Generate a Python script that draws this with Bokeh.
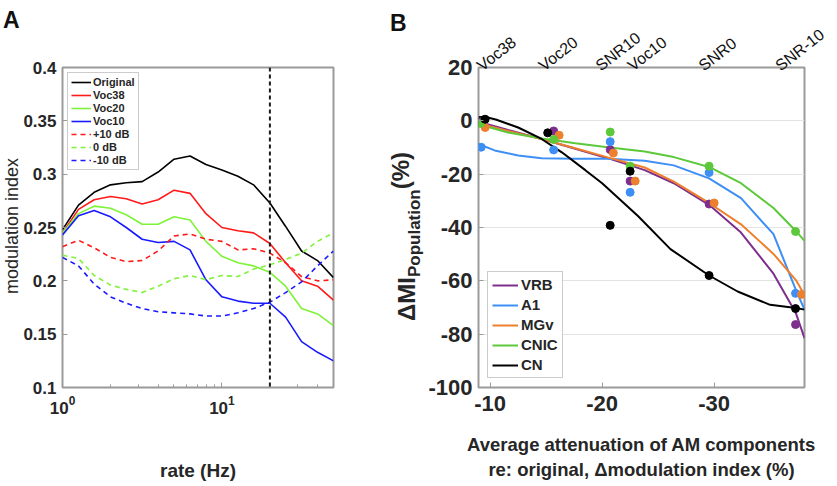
import math
from bokeh.plotting import figure
from bokeh.models import Range1d, FixedTicker, LinearAxis, Span, Div
from bokeh.layouts import row
from bokeh.embed import file_html
from bokeh.resources import INLINE

FONT = "Liberation Sans"
BOX = "#9a9a9a"
TXT = "#262626"
H = 486

# ---------------- Panel A data ----------------
rates = [1.0, 1.26, 1.58, 2.0, 2.51, 3.16, 3.98, 5.01, 6.31, 7.94, 10.0, 12.6, 15.8, 20.0, 25.1, 31.6, 39.8, 50.1]
original = [0.248, 0.271, 0.283, 0.290, 0.292, 0.293, 0.302, 0.314, 0.317, 0.309, 0.304, 0.298, 0.290, 0.273, 0.251, 0.228, 0.219, 0.203]
voc38 = [0.245, 0.267, 0.276, 0.279, 0.277, 0.272, 0.276, 0.285, 0.282, 0.263, 0.250, 0.247, 0.245, 0.235, 0.217, 0.200, 0.195, 0.182]
voc20 = [0.245, 0.263, 0.270, 0.268, 0.262, 0.253, 0.253, 0.260, 0.257, 0.237, 0.223, 0.217, 0.214, 0.208, 0.195, 0.174, 0.169, 0.158]
voc10 = [0.243, 0.261, 0.266, 0.260, 0.250, 0.239, 0.236, 0.237, 0.229, 0.201, 0.185, 0.181, 0.179, 0.179, 0.166, 0.143, 0.133, 0.125]
snr_p10 = [0.232, 0.238, 0.231, 0.222, 0.218, 0.219, 0.228, 0.242, 0.244, 0.239, 0.237, 0.229, 0.230, 0.226, 0.217, 0.204, 0.200, 0.201]
snr_0 = [0.224, 0.221, 0.205, 0.196, 0.192, 0.189, 0.195, 0.202, 0.205, 0.201, 0.205, 0.204, 0.211, 0.215, 0.220, 0.226, 0.237, 0.245]
snr_m10 = [0.222, 0.214, 0.197, 0.185, 0.179, 0.174, 0.171, 0.170, 0.169, 0.167, 0.167, 0.170, 0.174, 0.180, 0.189, 0.199, 0.214, 0.228]
cutoff_rate = 20.0
a_xticks = [1, 10]
a_xminor = [2, 3, 4, 5, 6, 7, 8, 9, 20, 30, 40, 50]
a_yticks = [0.1, 0.15, 0.2, 0.25, 0.3, 0.35, 0.4]
a_ylabels = ["0.1", "0.15", "0.2", "0.25", "0.3", "0.35", "0.4"]

# ---------------- Panel B data ----------------
regions = ["VRB", "A1", "MGv", "CNIC", "CN"]
colors_b = ["#7e2f8e", "#3d8ef5", "#ee7f2d", "#5cc83a", "#000000"]
pts_x = {
    "VRB": [-9.14, -15.67, -20.72, -22.5, -29.55, -37.27],
    "A1": [-9.2, -15.67, -20.72, -22.5, -29.55, -37.27],
    "MGv": [-9.55, -16.16, -21.0, -22.95, -30.0, -37.8],
    "CNIC": [-9.14, -15.67, -20.72, -22.5, -29.55, -37.27],
    "CN": [-9.55, -15.14, -20.72, -22.5, -29.55, -37.27],
}
pts_y = {
    "VRB": [-0.4, -3.8, -10.8, -22.6, -31.2, -76.4],
    "A1": [-9.9, -10.9, -7.8, -26.8, -19.4, -64.7],
    "MGv": [-2.5, -5.4, -12.1, -22.6, -30.8, -65.1],
    "CNIC": [-1.0, -7.0, -4.2, -17.0, -17.0, -41.5],
    "CN": [0.6, -4.5, -39.2, -18.9, -58.0, -70.4],
}
fit_x = {
    "VRB": [-8.96, -11.6, -14.6, -17.6, -20.5, -23.8, -26.4, -29.55, -32.4, -35.3, -37.3, -38.07],
    "A1": [-8.96, -10.4, -12.5, -14.6, -17.6, -20.5, -23.8, -26.4, -29.55, -32.4, -35.3, -37.3, -38.07],
    "MGv": [-8.96, -11.6, -14.6, -17.6, -20.5, -23.8, -26.4, -29.55, -32.4, -35.3, -37.3, -38.07],
    "CNIC": [-8.96, -11.6, -14.6, -17.6, -20.5, -23.8, -26.4, -29.55, -32.4, -35.3, -37.3, -38.07],
    "CN": [-8.96, -9.5, -10.5, -12.5, -14.6, -16.4, -18.5, -20.0, -23.2, -26.1, -29.55, -32.1, -35.0, -37.3, -38.07],
}
fit_y = {
    "VRB": [-0.3, -3.4, -6.8, -10.5, -14.0, -18.5, -23.4, -31.5, -41.9, -57.3, -72.1, -81.5],
    "A1": [-8.7, -11.1, -13.0, -14.0, -14.2, -14.2, -15.0, -16.7, -21.6, -29.0, -42.5, -63.4, -70.8],
    "MGv": [-1.0, -3.8, -6.8, -10.3, -13.7, -17.5, -22.8, -30.8, -38.8, -49.9, -59.7, -65.3],
    "CNIC": [-1.3, -4.4, -6.6, -8.4, -9.9, -11.5, -13.6, -17.3, -23.4, -32.7, -41.3, -45.0],
    "CN": [1.3, 1.5, 0.5, -2.5, -6.8, -11.8, -18.5, -23.4, -35.7, -48.1, -58.0, -64.0, -69.0, -70.2, -70.8],
}
stim_labels = ["Voc38", "Voc20", "SNR10", "Voc10", "SNR0", "SNR-10"]
stim_ticks = [-9.0, -14.5, -19.6, -22.45, -28.8, -35.65]   # where each rotated name starts
b_xticks = [-10, -20, -30]
b_xlabels = ["-10", "-20", "-30"]
b_yticks = [-100, -80, -60, -40, -20, 0, 20]
b_ylabels = ["-100", "-80", "-60", "-40", "-20", "0", "20"]
B_X0, B_X1 = -8.96, -38.07


def style_axis(ax, size):
    ax.axis_line_color = None
    ax.major_tick_line_color = BOX
    ax.minor_tick_line_color = BOX
    ax.major_tick_in = 5
    ax.major_tick_out = 0
    ax.minor_tick_in = 3
    ax.minor_tick_out = 0
    ax.major_label_text_font = FONT
    ax.major_label_text_font_style = "bold"
    ax.major_label_text_font_size = size
    ax.major_label_text_color = TXT


# ================= left column: letter A and y-axis title of A =================
a_html = (
    '<div style="position:relative;width:20px;height:486px;overflow:visible;">'
    '<span style="position:absolute;left:3px;top:9px;font:bold 23px \'Liberation Sans\';'
    'color:#111111;line-height:1;">A</span>'
    '<div style="position:absolute;left:2px;top:294px;transform:rotate(-90deg);'
    'transform-origin:0 0;white-space:nowrap;line-height:1;color:#262626;'
    'font:normal 18px \'Liberation Sans\';">modulation index</div>'
    '</div>'
)
colA = Div(text=a_html, width=20, height=H, margin=(0, 0, 0, 0))

# ================= Panel A =================
pA = figure(width=370, height=H, x_axis_type="log",
            x_range=Range1d(1, 50.12), y_range=Range1d(0.1, 0.4),
            output_backend="svg", toolbar_location=None,
            min_border_left=41, min_border_right=57, min_border_top=67, min_border_bottom=97)
pA.grid.grid_line_color = None
pA.outline_line_color = BOX
pA.outline_line_width = 2
pA.xaxis.ticker = FixedTicker(ticks=a_xticks, minor_ticks=a_xminor)
pA.yaxis.ticker = FixedTicker(ticks=a_yticks)
pA.yaxis.major_label_overrides = dict(zip(a_yticks, a_ylabels))
style_axis(pA.xaxis[0], "17px")
style_axis(pA.yaxis[0], "17px")
pA.yaxis.minor_tick_line_color = None
pA.xaxis.major_label_standoff = 8
pA.yaxis.major_label_standoff = 6
pA.xaxis.axis_label = "rate (Hz)"
pA.xaxis.axis_label_text_font = FONT
pA.xaxis.axis_label_text_font_size = "19px"
pA.xaxis.axis_label_text_font_style = "bold"
pA.xaxis.axis_label_text_color = TXT
pA.xaxis.axis_label_standoff = 43

lw = 1.6
pA.line(rates, original, line_color="black", line_width=lw, legend_label="Original")
pA.line(rates, voc38, line_color="#ff1a1a", line_width=lw, legend_label="Voc38")
pA.line(rates, voc20, line_color="#7ff23a", line_width=lw, legend_label="Voc20")
pA.line(rates, voc10, line_color="#1a1aff", line_width=lw, legend_label="Voc10")
pA.line(rates, snr_p10, line_color="#ff1a1a", line_width=lw, line_dash="5 4", legend_label="+10 dB")
pA.line(rates, snr_0, line_color="#7ff23a", line_width=lw, line_dash="5 4", legend_label="0 dB")
pA.line(rates, snr_m10, line_color="#1a1aff", line_width=lw, line_dash="5 4", legend_label="-10 dB")
pA.add_layout(Span(location=cutoff_rate, dimension="height", line_color="#1a1a1a",
                   line_width=2, line_dash="4 3"))

lgA = pA.legend[0]
lgA.location = "top_left"
lgA.margin = 5
lgA.padding = 3
lgA.spacing = 1
lgA.label_height = 12
lgA.glyph_height = 12
lgA.glyph_width = 20
lgA.label_standoff = 2
lgA.label_text_font = FONT
lgA.label_text_font_size = "11px"
lgA.label_text_font_style = "bold"
lgA.label_text_color = TXT
lgA.border_line_color = "#9a9a9a"

# ================= gap column: letter B and the y-axis title of B =================
b_html = (
    '<div style="position:relative;width:35px;height:486px;overflow:visible;">'
    '<span style="position:absolute;left:0px;top:12px;font:bold 23px \'Liberation Sans\';'
    'color:#111111;line-height:1;">B</span>'
    '<div style="position:absolute;left:3px;top:321px;transform:rotate(-90deg);'
    'transform-origin:0 0;white-space:nowrap;line-height:1;color:#262626;'
    'font:bold 24px \'Liberation Sans\';">'
    '\u0394MI<span style="font-size:17px;position:relative;top:5px;">Population</span>'
    '<span style="position:relative;top:-6px;">(%)</span></div>'
    '</div>'
)
colB = Div(text=b_html, width=35, height=H, margin=(0, 0, 0, 0))

# ================= Panel B =================
pB = figure(width=410, height=H,
            x_range=Range1d(B_X0, B_X1), y_range=Range1d(-100, 20),
            output_backend="svg", toolbar_location=None,
            min_border_left=52, min_border_right=31, min_border_top=62, min_border_bottom=99)
pB.outline_line_color = BOX
pB.outline_line_width = 2
pB.xgrid.grid_line_color = None
pB.ygrid.grid_line_color = "#e3e3e3"
pB.ygrid.grid_line_width = 1
pB.xaxis.ticker = FixedTicker(ticks=b_xticks)
pB.yaxis.ticker = FixedTicker(ticks=b_yticks)
pB.xaxis.major_label_overrides = dict(zip(b_xticks, b_xlabels))
pB.yaxis.major_label_overrides = dict(zip(b_yticks, b_ylabels))
style_axis(pB.xaxis[0], "22px")
style_axis(pB.yaxis[0], "22px")
pB.xaxis.minor_tick_line_color = None
pB.yaxis.minor_tick_line_color = None
pB.xaxis.major_label_standoff = 8
pB.yaxis.major_label_standoff = 6
pB.xaxis.axis_label = "Average attenuation of AM components\nre: original, \u0394modulation index (%)"
pB.xaxis.axis_label_text_font = FONT
pB.xaxis.axis_label_text_font_size = "18.5px"
pB.xaxis.axis_label_text_font_style = "bold"
pB.xaxis.axis_label_text_color = TXT
pB.xaxis.axis_label_standoff = 20

# rotated stimulus names along the top
top = LinearAxis(ticker=FixedTicker(ticks=stim_ticks),
                 major_label_overrides=dict(zip(stim_ticks, stim_labels)),
                 major_label_orientation=math.radians(38))
top.axis_line_color = None
top.major_tick_line_color = None
top.minor_tick_line_color = None
top.major_tick_out = 0
top.major_tick_in = 0
top.major_label_standoff = 0
top.major_label_text_font = FONT
top.major_label_text_font_size = "16px"
top.major_label_text_font_style = "normal"
top.major_label_text_color = "#111111"
pB.add_layout(top, "above")

for name, col in zip(regions, colors_b):
    pB.line(fit_x[name], fit_y[name], line_color=col, line_width=2, legend_label=name)
for name, col in zip(regions, colors_b):
    pB.scatter(pts_x[name], pts_y[name], size=8, color=col)

lgB = pB.legend[0]
lgB.location = "bottom_left"
lgB.margin = 9
lgB.padding = 4
lgB.spacing = 3
lgB.label_height = 16
lgB.glyph_height = 16
lgB.glyph_width = 26
lgB.label_standoff = 3
lgB.label_text_font = FONT
lgB.label_text_font_size = "15px"
lgB.label_text_font_style = "bold"
lgB.label_text_color = TXT
lgB.border_line_color = "#9a9a9a"

open("out.html", "w").write(file_html(row(colA, pA, colB, pB), INLINE))
